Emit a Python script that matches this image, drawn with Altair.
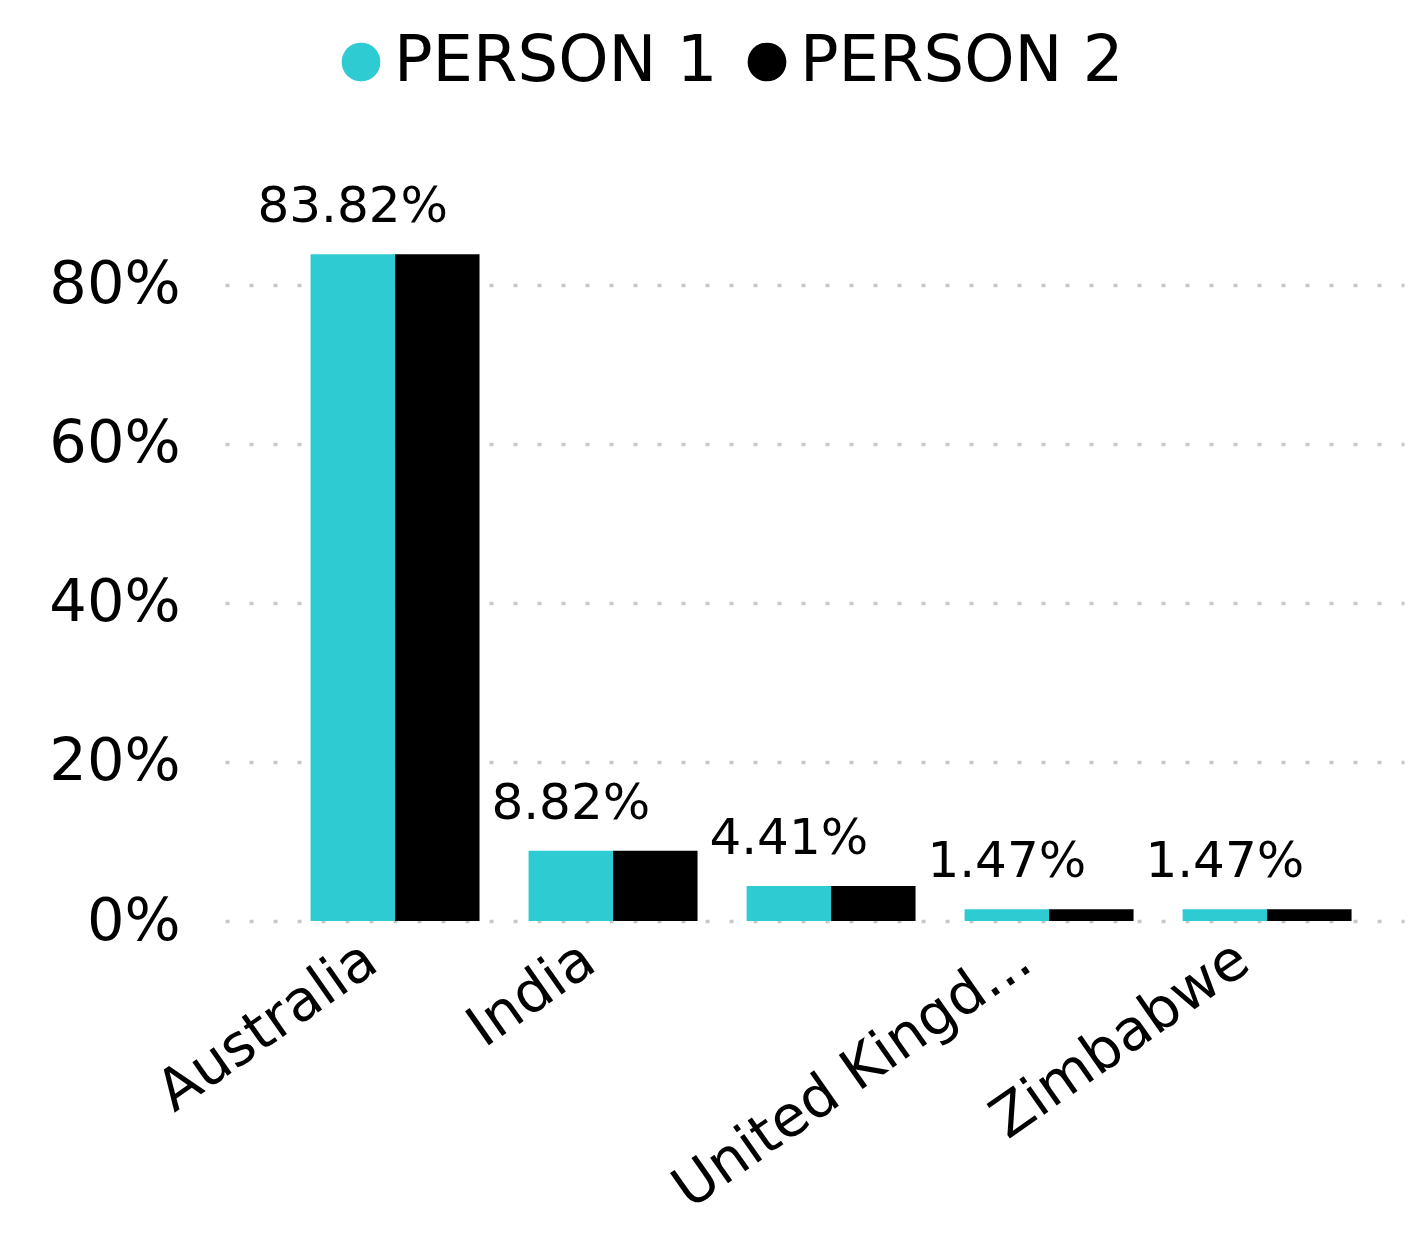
import altair as alt
import pandas as pd

countries = ["Australia", "India", "", "United Kingdom", "Zimbabwe"]
person1 = [0.8382, 0.0882, 0.0441, 0.0147, 0.0147]
person2 = [0.8382, 0.0882, 0.0441, 0.0147, 0.0147]
series = ["PERSON 1", "PERSON 2"]
colors = ["#2ECBD3", "#000000"]
y_ticks = [0, 0.2, 0.4, 0.6, 0.8]

rows = []
for c, a, b in zip(countries, person1, person2):
    rows.append({"country": c, "person": series[0], "value": a})
    rows.append({"country": c, "person": series[1], "value": b})
df = pd.DataFrame(rows)

FONT = "DejaVu Sans"

x_enc = alt.X(
    "country:N",
    sort=countries,
    title=None,
    scale=alt.Scale(paddingInner=0.225, paddingOuter=0.3165, align=0.62),
    axis=alt.Axis(
        labelAngle=-35,
        labelFontSize=57,
        labelFont=FONT,
        labelColor="#000000",
        domain=False,
        ticks=False,
        labelPadding=10,
        labelOffset=-40,
        labelOverlap=False,
        labelLimit=0,
        labelExpr="datum.value == 'United Kingdom' ? 'United Kingd...' : datum.value",
    ),
)
xoff_enc = alt.XOffset("person:N", sort=series, scale=alt.Scale(domain=series))
y_enc = alt.Y(
    "value:Q",
    title=None,
    scale=alt.Scale(domain=[0, 0.9], nice=False),
    axis=alt.Axis(
        values=y_ticks,
        format=".0%",
        labelFontSize=59,
        labelFont=FONT,
        labelColor="#000000",
        labelPadding=45,
        domain=False,
        ticks=False,
        gridDash=[4, 20],
        gridColor="#c8c8c8",
        gridWidth=3.5,
    ),
)

bars = alt.Chart(df).mark_bar().encode(
    x=x_enc,
    xOffset=xoff_enc,
    y=y_enc,
    color=alt.Color(
        "person:N",
        scale=alt.Scale(domain=series, range=colors),
        legend=alt.Legend(
            orient="none",
            legendX=104,
            legendY=-175,
            direction="horizontal",
            title=None,
            symbolType="circle",
            symbolSize=1500,
            symbolStrokeWidth=0,
            labelFontSize=64,
            labelFont=FONT,
            labelColor="#000000",
            labelOffset=1,
            labelLimit=0,
            columnPadding=17,
        ),
    ),
)

labels = alt.Chart(df).transform_filter(
    alt.datum.person == series[0]
).mark_text(
    baseline="alphabetic", dy=-32, fontSize=50, font=FONT, color="#000000"
).encode(
    x=x_enc,
    xOffset=xoff_enc,
    y=y_enc,
    text=alt.Text("value:Q", format=".2%"),
)

chart = alt.layer(bars, labels).properties(
    width=1179,
    height=716,
    autosize="none",
    padding={"left": 217, "top": 197, "right": 12, "bottom": 312},
).configure_view(stroke=None)

chart.save("out.html", embed_options={"renderer": "svg", "actions": False})
